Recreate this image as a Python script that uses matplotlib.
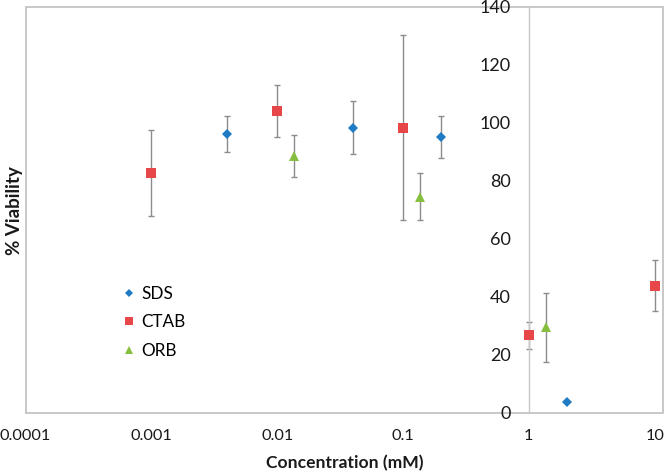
import matplotlib
matplotlib.use("Agg")
import matplotlib.pyplot as plt
from matplotlib.patches import Rectangle

plt.rcParams['font.family'] = ['Lato', 'DejaVu Sans']

# Data
sds_x = [0.004, 0.04, 0.2, 2]
sds_y = [96.1, 98.3, 95.0, 3.8]
sds_err = [6.2, 9.1, 7.3, 0.0]

ctab_x = [0.001, 0.01, 0.1, 1, 10]
ctab_y = [82.6, 104.1, 98.3, 26.7, 43.7]
ctab_err = [14.9, 9.0, 31.8, 4.6, 8.8]

orb_x = [0.0136, 0.136, 1.36]
orb_y = [88.6, 74.5, 29.4]
orb_err = [7.3, 8.2, 11.8]

x_ticks = [0.0001, 0.001, 0.01, 0.1, 1, 10]
x_tick_labels = ['0.0001', '0.001', '0.01', '0.1', '1', '10']
y_ticks = [0, 20, 40, 60, 80, 100, 120, 140]

fig = plt.figure(figsize=(6.66, 4.72), dpi=100)
ax = fig.add_axes([25.5 / 666, 1 - 412.7 / 472, (663.3 - 25.5) / 666, (412.7 - 6.7) / 472])

ax.set_xscale('log')
ax.set_xlim(1e-4, 11.7)
ax.set_ylim(0, 140)

err_color = '#8c8c8c'
series = [
    ('SDS', sds_x, sds_y, sds_err, 'D', '#1f7bc4', 5.2),
    ('CTAB', ctab_x, ctab_y, ctab_err, 's', '#e8474a', 6.8),
    ('ORB', orb_x, orb_y, orb_err, '^', '#86bf3f', 7.0),
]
handles = []
for name, xs, ys, es, mk, col, ms in series:
    ax.errorbar(xs, ys, yerr=es, fmt='none', ecolor=err_color, elinewidth=1.0,
                capsize=2.5, capthick=1.0, zorder=2)
    h, = ax.plot(xs, ys, linestyle='none', marker=mk, color=col, markersize=ms,
                 markeredgewidth=0, label=name, zorder=3)
    handles.append(h)

# Spines: frame drawn as rectangle, y axis crossing at x=1
for s in ['top', 'right', 'bottom']:
    ax.spines[s].set_visible(False)
ax.spines['left'].set_position(('data', 1))
ax.spines['left'].set_color('#c8c8c8')
ax.spines['left'].set_linewidth(1.0)
ax.add_patch(Rectangle((0, 0), 1, 1, transform=ax.transAxes, fill=False,
                       edgecolor='#bfbfbf', linewidth=1.2, zorder=1, clip_on=False))

ax.set_xticks(x_ticks)
ax.set_xticklabels(x_tick_labels)
ax.minorticks_off()
ax.set_yticks(y_ticks)
ax.tick_params(axis='x', length=0, pad=11.5, labelsize=11.8, labelcolor='#1a1a1a')
ax.tick_params(axis='y', length=0, pad=13, labelsize=13, labelcolor='#1a1a1a')

fig.text(345 / 666, 1 - 463 / 472, 'Concentration (mM)', ha='center', va='center',
         fontsize=12.6, fontweight='bold', color='#1a1a1a')
fig.text(15 / 666, 1 - 211 / 472, '% Viability', ha='center', va='center',
         rotation=90, fontsize=13.5, fontweight='bold', color='#1a1a1a')

leg = ax.legend(handles=handles, loc='upper left', frameon=False, fontsize=12.3,
                bbox_to_anchor=((122 - 25.5) / 637.8, 1 - (286 - 6.7) / 406),
                handlelength=0.8, handletextpad=0.35, labelspacing=0.72,
                markerscale=0.75, borderaxespad=0, borderpad=0)

fig.savefig('out.png', dpi=100)
